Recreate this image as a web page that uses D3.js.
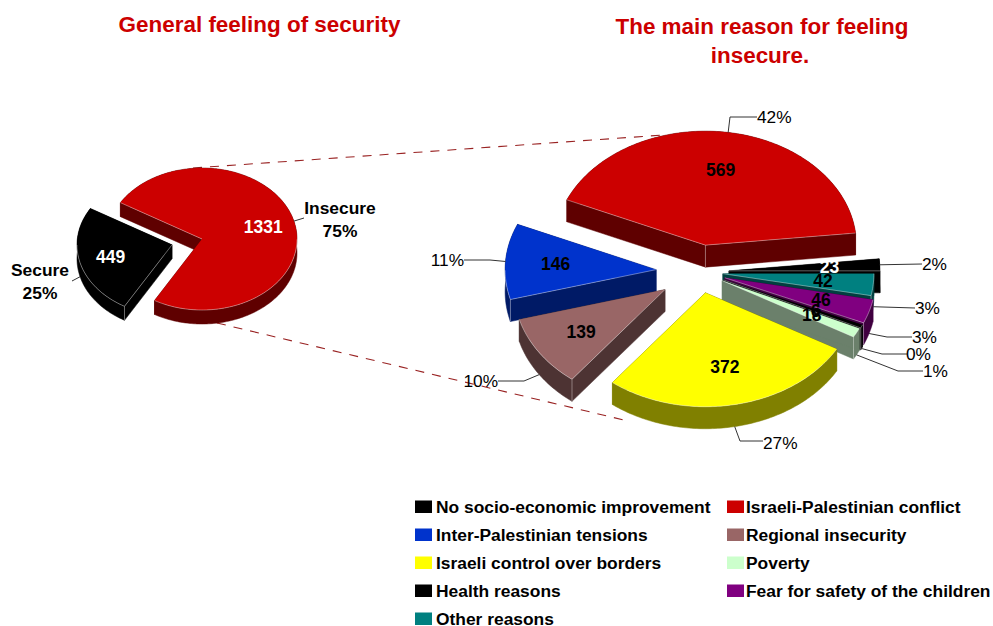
<!DOCTYPE html>
<html>
<head>
<meta charset="utf-8">
<script src="https://cdn.jsdelivr.net/npm/d3@7/dist/d3.min.js"></script>
<style>
  html, body { margin: 0; padding: 0; background: #fff; }
  text { font-family: "Liberation Sans", Arial, sans-serif; }
</style>
</head>
<body>
<svg id="chart" width="993" height="626"></svg>
<script>
// ---- overall security feeling ----
const securityNames  = ["Secure", "Insecure"];
const securityValues = [449, 1331];
const securityShares = ["25%", "75%"];

// ---- reasons for feeling insecure, in legend order ----
const reasonNames = [
  "No socio-economic improvement", "Israeli-Palestinian conflict",
  "Inter-Palestinian tensions", "Regional insecurity",
  "Israeli control over borders", "Poverty",
  "Health reasons", "Fear for safety of the children",
  "Other reasons"
];
const reasonValues = [23, 569, 146, 139, 372, 18, 6, 46, 42];
const reasonShares = ["2%", "42%", "11%", "10%", "27%", "1%", "0%", "3%", "3%"];

// ---- palette ----
const securityTop  = ["#000000", "#cc0000"];
const securitySide = ["#000000", "#5f0000"];
const reasonTop  = ["#000000", "#cc0000", "#0033cc", "#996666", "#ffff00", "#ccffcc", "#000000", "#800080", "#008080"];
const reasonSide = ["#000000", "#5f0000", "#001a66", "#4d3333", "#808000", "#6b806b", "#000000", "#400040", "#004040"];
const reasonInk  = ["#ffffff", "#000000", "#000000", "#000000", "#000000", "#000000", "#000000", "#000000", "#000000"];
const titleRed = "#cc0000";

const deg = Math.PI / 180;
const svg = d3.select("#chart");

// Builds a tilted pie: an ellipse centred on (cx, cy), pulled apart slice by slice.
function tiltedPie(cfg) {
  const arcs = d3.pie().sort(null)
    .startAngle(cfg.start).endAngle(cfg.end)(cfg.values);
  const sx = d3.scaleLinear().domain([-1, 1]).range([-cfg.rx, cfg.rx]);
  const sy = d3.scaleLinear().domain([-1, 1]).range([cfg.ry, -cfg.ry]);
  arcs.forEach((a, i) => {
    a.index = i;
    a.mid = (a.startAngle + a.endAngle) / 2;
    const e = cfg.pull[i];
    a.ox = cfg.cx + e * Math.sin(a.mid);
    a.oy = cfg.cy - e * Math.cos(a.mid) * cfg.ry / cfg.rx;
    a.at = (t, ang) => [a.ox + sx(t * Math.sin(ang)), a.oy + sy(t * Math.cos(ang))];
    const n = Math.max(4, Math.ceil(Math.abs(a.endAngle - a.startAngle) / deg));
    a.rim = d3.range(n + 1).map(k => a.at(1, a.startAngle + (a.endAngle - a.startAngle) * k / n));
  });
  return arcs;
}

const line = d3.line();
const EDGE = "rgba(255,255,255,0.55)";

// Paints one slice: extruded walls first, then the lit top face and its fine edge lines.
function drawSlice(g, a, top, side, depth) {
  const apex = [a.ox, a.oy];
  const drop = p => [p[0], p[1] + depth];
  const first = a.rim[0], last = a.rim[a.rim.length - 1];
  const walls = g.append("g").attr("fill", side).attr("stroke", side).attr("stroke-width", 0.5);
  walls.append("path").attr("d", line([apex, first, drop(first), drop(apex)]) + "Z");
  walls.append("path").attr("d", line([apex, last, drop(last), drop(apex)]) + "Z");
  walls.append("path").attr("d", line(a.rim.concat(a.rim.map(drop).reverse())) + "Z");
  g.append("path").attr("fill", top)
    .attr("d", line([apex].concat(a.rim)) + "Z");

  // pale highlight where the top face meets a wall the viewer can see
  const hi = g.append("g").attr("fill", "none").attr("stroke", EDGE).attr("stroke-width", 0.7);
  const span = a.endAngle - a.startAngle;
  const frontRim = a.rim.filter((p, k) => Math.cos(a.startAngle + span * k / (a.rim.length - 1)) < 0);
  if (frontRim.length > 1) hi.append("path").attr("d", line(frontRim));
  const inner = a.at(1, a.mid);
  const wallVisible = p => {
    const ex = p[0] - apex[0], ey = p[1] - apex[1];
    const cross = ex * (inner[1] - apex[1]) - ey * (inner[0] - apex[0]);
    return ex < 0 ? cross > 0 : cross < 0;
  };
  const shown = [[first, a.startAngle], [last, a.endAngle]].filter(([p]) => wallVisible(p));
  shown.forEach(([p, ang]) => {
    hi.append("path").attr("d", line([apex, p]));
    if (Math.cos(ang) < 0) hi.append("path").attr("d", line([p, drop(p)]));
  });
  if (shown.length === 2) hi.append("path").attr("d", line([apex, drop(apex)]));
}

function leader(a, elbows, dropBy) {
  const start = a.at(1, a.mid);
  const pts = [[start[0], start[1] + dropBy]].concat(elbows);
  svg.append("path").attr("d", line(pts))
    .attr("fill", "none").attr("stroke", "#333").attr("stroke-width", 1);
}

function valueLabel(a, value, colour) {
  const p = a.at(2 / 3, a.mid);
  svg.append("text").attr("x", p[0]).attr("y", p[1] + 6)
    .attr("text-anchor", "middle").attr("font-weight", "bold")
    .attr("font-size", 17.5).attr("fill", colour).text(value);
}

// ---- dashed connectors between the two pies ----
const connectors = [[[193, 168], [664, 135]], [[217, 323], [628, 421]]];
svg.append("g").attr("stroke", "#992222").attr("stroke-width", 1.1)
  .attr("stroke-dasharray", "9 8").attr("fill", "none")
  .selectAll("path").data(connectors).join("path").attr("d", d => line(d));

// ---- left pie ----
const leftCfg = {
  values: securityValues, cx: 202, cy: 239, rx: 95, ry: 71, depth: 14,
  start: -150 * deg, end: 210 * deg, pull: [31, 0]
};
const leftArcs = tiltedPie(leftCfg);
const leftG = svg.append("g");
[1, 0].forEach(i => drawSlice(leftG.append("g"), leftArcs[i], securityTop[i], securitySide[i], leftCfg.depth));

leader(leftArcs[0], [[72, 281]], leftCfg.depth);
leader(leftArcs[1], [[304, 218]], 0);
leftArcs.forEach((a, i) => valueLabel(a, securityValues[i], "#fff"));

const sideLabels = [
  { x: 40, y: 276, name: securityNames[0], share: securityShares[0] },
  { x: 340, y: 214, name: securityNames[1], share: securityShares[1] }
];
sideLabels.forEach(d => {
  const t = svg.append("text").attr("text-anchor", "middle").attr("font-weight", "bold")
    .attr("font-size", 17.4).attr("fill", "#000");
  t.append("tspan").attr("x", d.x).attr("y", d.y).text(d.name);
  t.append("tspan").attr("x", d.x).attr("y", d.y + 22.5).text(d.share);
});

// ---- right pie ----
const rightCfg = {
  values: reasonValues, cx: 700, cy: 272, rx: 151, ry: 114, depth: 22,
  start: 90 * deg, end: -270 * deg,
  pull: [29, 36, 44, 42, 28, 25, 26, 26, 23]
};
const rightArcs = tiltedPie(rightCfg);
const paintOrder = [1, 0, 8, 7, 6, 5, 2, 3, 4];
const rightG = svg.append("g");
paintOrder.forEach(i => drawSlice(rightG.append("g"), rightArcs[i], reasonTop[i], reasonSide[i], rightCfg.depth));

// Elbows and text anchors for the percentage call-outs.
const D = rightCfg.depth;
const shareCallouts = [
  { elbows: [[922, 264]], x: 922, y: 270, drop: 0 },
  { elbows: [[730, 117], [757, 117]], x: 757, y: 123, drop: 0 },
  { elbows: [[490, 260], [464, 260]], x: 464, y: 266, anchor: "end", drop: 0 },
  { elbows: [[524, 381], [498, 381]], x: 498, y: 387, anchor: "end", drop: D },
  { elbows: [[740, 441], [763, 441]], x: 763, y: 449, drop: D },
  { elbows: [[898, 371], [923, 371]], x: 923, y: 377, drop: D },
  { elbows: [[882, 354], [907, 354]], x: 906, y: 360, drop: D },
  { elbows: [[887, 337], [912, 337]], x: 912, y: 343, drop: D },
  { elbows: [[915, 308]], x: 915, y: 314, drop: D }
];
rightArcs.forEach((a, i) => leader(a, shareCallouts[i].elbows, shareCallouts[i].drop));
rightArcs.forEach((a, i) => valueLabel(a, reasonValues[i], reasonInk[i]));
shareCallouts.forEach((c, i) => {
  svg.append("text").attr("x", c.x).attr("y", c.y)
    .attr("text-anchor", c.anchor || "start")
    .attr("font-size", 17.3).attr("fill", "#000").text(reasonShares[i]);
});

// ---- titles ----
const titleLines = [
  { text: "General feeling of security", x: 259.5, y: 32 },
  { text: "The main reason for feeling", x: 762, y: 33.5 },
  { text: "insecure.", x: 760, y: 62.5 }
];
svg.append("g").selectAll("text").data(titleLines).join("text")
  .attr("x", d => d.x).attr("y", d => d.y).attr("text-anchor", "middle")
  .attr("font-weight", "bold").attr("font-size", 22.45).attr("fill", titleRed)
  .text(d => d.text);

// ---- legend: two columns, five rows ----
const legendX = d3.scaleOrdinal().domain([0, 1]).range([415, 727]);
const legendY = d3.scaleLinear().domain([0, 4]).range([507, 619]);
const legend = svg.append("g").selectAll("g").data(reasonNames).join("g")
  .attr("transform", (d, i) => `translate(${legendX(i % 2)},${legendY(Math.floor(i / 2))})`);
legend.append("rect").attr("x", 0).attr("y", -6.5).attr("width", 17).attr("height", 12.5)
  .attr("fill", (d, i) => reasonTop[i]);
legend.append("text").attr("x", (d, i) => i % 2 ? 19 : 21).attr("y", 6)
  .attr("font-weight", "bold").attr("font-size", 17.4).attr("fill", "#000").text(d => d);
</script>
</body>
</html>
